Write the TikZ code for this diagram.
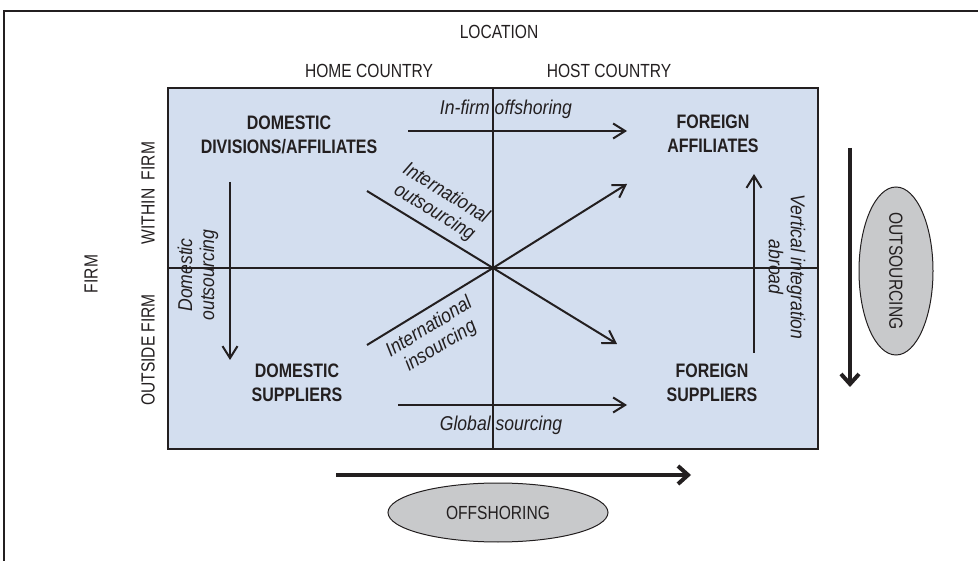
\documentclass[tikz,border=0pt]{standalone}
\usepackage{fontspec}
\setmainfont{Liberation Sans}[FakeStretch=0.82]
\newfontfamily\itf{Liberation Sans}[FakeStretch=0.88]
\usetikzlibrary{arrows.meta,shapes.geometric}
\definecolor{ink}{RGB}{35,31,32}
\definecolor{boxblue}{RGB}{211,222,239}
\definecolor{ellgray}{RGB}{200,201,203}
\tikzset{
  lab/.style={font=\fontsize{19}{22}\selectfont, text=ink, inner sep=0pt},
  boldlab/.style={font=\fontsize{19.5}{24}\selectfont\bfseries, text=ink, align=center, inner sep=0pt},
  itl/.style={font=\itf\itshape\fontsize{20}{22}\selectfont, text=ink, align=center, inner sep=0pt},
  arr/.style={draw=ink, line width=2pt, -{Straight Barb[length=12pt,width=15pt]}},
  bigarr/.style={draw=ink, line width=4pt, -{Straight Barb[length=10pt,width=18pt]}},
  ell/.style={ellipse, draw=ink, line width=1pt, fill=ellgray, inner sep=0pt, text=ink, font=\fontsize{19}{22}\selectfont},
}
\begin{document}
\begin{tikzpicture}[x=1pt,y=-1pt]
\useasboundingbox (0,0) rectangle (978,561);
\clip (0,0) rectangle (978,561);
% outer frame
\draw[ink, line width=1.5pt] (990,11) -- (4,11) -- (4,580);
% main box
\draw[fill=boxblue, draw=ink, line width=1.2pt] (168,88) rectangle (818,449);
\draw[ink, line width=1.5pt] (493,88) -- (493,449);
\draw[ink, line width=1.5pt] (168,268) -- (818,268);
% coordinates
\coordinate (c) at (493,268);
\coordinate (a1s) at (408,131); \coordinate (a1e) at (627,131);
\coordinate (a2s) at (398,405); \coordinate (a2e) at (627,405);
\coordinate (a3s) at (230,182); \coordinate (a3e) at (230,360);
\coordinate (a4s) at (754,353); \coordinate (a4e) at (754,174);
\coordinate (d1s) at (367,191); \coordinate (d1e) at (617,344);
\coordinate (d2s) at (367,345); \coordinate (d2e) at (627,184);
\coordinate (b1s) at (850,148); \coordinate (b1e) at (850,387);
\coordinate (b2s) at (336,475); \coordinate (b2e) at (691,475);
% headings
\node[lab] (loc) at (499,32) {LOCATION};
\node[lab] (home) at (369,71) {HOME COUNTRY};
\node[lab] (host) at (609,71) {HOST COUNTRY};
\node[lab, rotate=90] (firm) at (91,274) {FIRM};
\node[lab, rotate=90] (within) at (148,193) {WITHIN\ \ FIRM};
\node[lab, rotate=90] (outside) at (148,350) {OUTSIDE FIRM};
% quadrant labels
\node[boldlab] (dda) at (289,135) {DOMESTIC\\DIVISIONS/AFFILIATES};
\node[boldlab] (fa) at (713,134) {FOREIGN\\AFFILIATES};
\node[boldlab] (ds) at (297,383) {DOMESTIC\\SUPPLIERS};
\node[boldlab] (fs) at (712,383) {FOREIGN\\SUPPLIERS};
% arrows
\draw[arr] (a1s) -- (a1e);
\draw[arr] (a2s) -- (a2e);
\draw[arr] (a3s) -- (a3e);
\draw[arr] (a4s) -- (a4e);
\draw[arr] (d1s) -- (c) -- (d1e);
\draw[arr] (d2s) -- (c) -- (d2e);
\draw[bigarr] (b1s) -- (b1e);
\draw[bigarr] (b2s) -- (b2e);
% arrow labels
\node[itl, anchor=base] (infirm) at (506,115) {In-firm offshoring};
\node[itl, anchor=base] (global) at (501,431) {Global sourcing};
\node[itl, rotate=90] (domout) at (198,275) {Domestic\\outsourcing};
\node[itl, rotate=-90] (vertint) at (787,267) {Vertical integration\\abroad};
\node[itl, rotate=-31.5] (intout) at (440,203) {International\\outsourcing};
\node[itl, rotate=31.5] (intins) at (435,337) {International\\insourcing};
% ellipses
\node[ell, minimum width=220pt, minimum height=59pt] (offsh) at (498,512.5) {OFFSHORING};
\node[ell, rotate=-90, minimum width=168pt, minimum height=74pt] (outs) at (896,271) {OUTSOURCING};
\end{tikzpicture}
\end{document}
